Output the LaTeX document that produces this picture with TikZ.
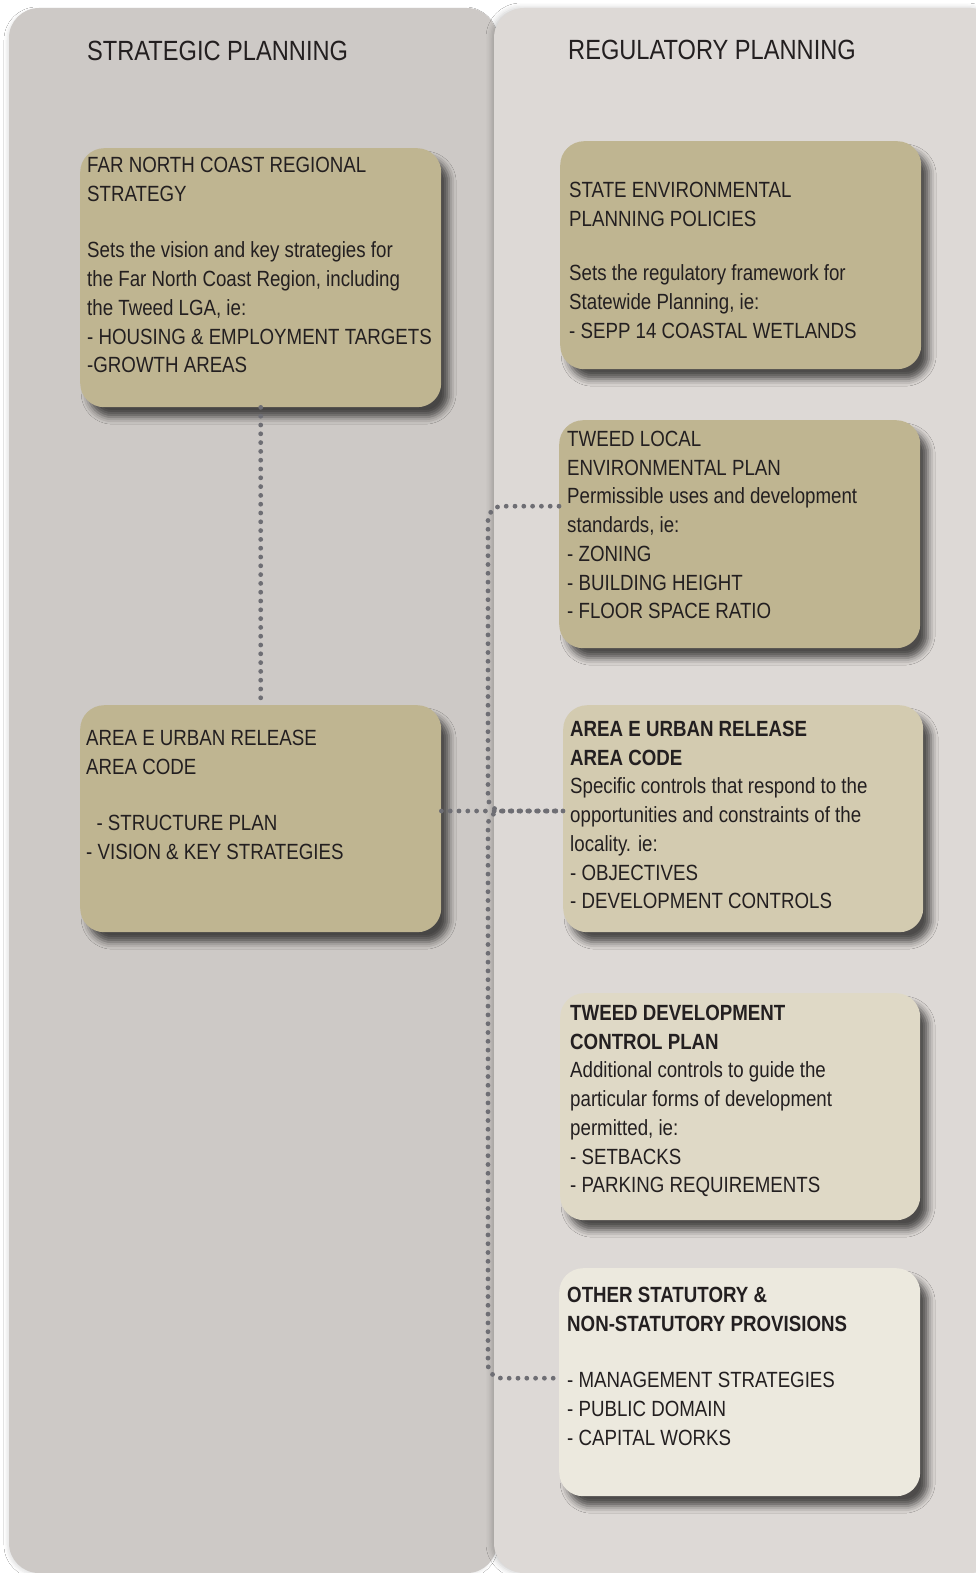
\documentclass[tikz,border=0pt]{standalone}
\usepackage{fontspec}
\setmainfont{Liberation Sans}[FakeStretch=0.85]
\usepackage{tikz}
\usetikzlibrary{positioning,shadows.blur}
\usepackage{xcolor}
\definecolor{leftp}{HTML}{CDC9C6}
\definecolor{rightp}{HTML}{DDD9D6}
\definecolor{tan}{HTML}{BFB591}
\definecolor{tanlight}{HTML}{D3CBB0}
\definecolor{sand}{HTML}{DFD9C6}
\definecolor{cream}{HTML}{ECE9DE}
\definecolor{ink}{HTML}{231F20}
\definecolor{dotc}{HTML}{6E6E74}
\newcommand{\bodyfont}{\fontsize{22}{28.7}\selectfont}
\newcommand{\headfont}{\fontsize{27.8}{32}\selectfont}

\begin{document}
\begin{tikzpicture}[x=1pt,y=-1pt,
	box/.style={rounded corners=24pt,anchor=north west,inner sep=0pt,blur shadow={shadow xshift=8pt,shadow yshift=-10pt,shadow blur radius=7pt,shadow opacity=65}},
	txt/.style={anchor=north west,inner sep=0pt,align=left,text=ink,font=\bodyfont},
	head/.style={anchor=west,inner sep=0pt,text=ink,font=\headfont},
	link/.style={draw=dotc,line width=4.8pt,line cap=round,dash pattern=on 0pt off 8.8pt}]
		\useasboundingbox[fill=white] (0,0) rectangle (975,1573);
		
		% the two columns
		\path[fill=leftp,rounded corners=30pt,blur shadow={shadow xshift=-2pt,shadow yshift=-2pt,shadow blur radius=3pt,shadow opacity=10}] (9,8) rectangle (497,1573);
		\path[fill=rightp,rounded corners=30pt,blur shadow={shadow xshift=-3pt,shadow yshift=0pt,shadow blur radius=5pt,shadow opacity=20}] (494,8) rectangle (1000,1573);
		\node[head] (strat) at (87,51) {STRATEGIC PLANNING};
		\node[head] (reg) at (568,50) {REGULATORY PLANNING};
		
		% boxes
		\node[box,fill=tan,minimum width=361pt,minimum height=259pt] (fncrs) at (80,148) {};
		\node[box,fill=tan,minimum width=361pt,minimum height=227pt] (codeL) at (80,705) {};
		\node[box,fill=tan,minimum width=361pt,minimum height=228pt] (sepp) at (560,141) {};
		\node[box,fill=tan,minimum width=361pt,minimum height=228pt] (lep) at (559,420) {};
		\node[box,fill=tanlight,minimum width=360pt,minimum height=227pt] (codeR) at (563,705) {};
		\node[box,fill=sand,minimum width=360pt,minimum height=227pt] (dcp) at (560,993) {};
		\node[box,fill=cream,minimum width=361pt,minimum height=228pt] (other) at (559,1268) {};
		
		% texts
		\node[txt] (fncrsT) at (87,157) {FAR NORTH COAST REGIONAL\\STRATEGY\\[28pt]Sets the vision and key strategies for\\the Far North Coast Region, including\\the Tweed LGA, ie:\\- HOUSING \& EMPLOYMENT TARGETS\\-GROWTH AREAS};
		\node[txt] (codeLT) at (86,730) {AREA E URBAN RELEASE\\AREA CODE\\[28pt]\ \ - STRUCTURE PLAN\\- VISION \& KEY STRATEGIES};
		\node[txt] (seppT) at (569,182) {STATE ENVIRONMENTAL\\PLANNING POLICIES\\[26pt]Sets the regulatory framework for\\Statewide Planning, ie:\\- SEPP 14 COASTAL WETLANDS};
		\node[txt] (lepT) at (567,431) {TWEED LOCAL\\ENVIRONMENTAL PLAN\\Permissible uses and development\\standards, ie:\\- ZONING\\- BUILDING HEIGHT\\- FLOOR SPACE RATIO};
		\node[txt] (codeRT) at (570,721) {\textbf{AREA E URBAN RELEASE}\\\textbf{AREA CODE}\\Specific controls that respond to the\\opportunities and constraints of the\\locality. ie:\\- OBJECTIVES\\- DEVELOPMENT CONTROLS};
		\node[txt] (dcpT) at (570,1005) {\textbf{TWEED DEVELOPMENT}\\\textbf{CONTROL PLAN}\\Additional controls to guide the\\particular forms of development\\permitted, ie:\\- SETBACKS\\- PARKING REQUIREMENTS};
		\node[txt] (otherT) at (567,1287) {\textbf{OTHER STATUTORY \&}\\\textbf{NON-STATUTORY PROVISIONS}\\[28pt]- MANAGEMENT STRATEGIES\\- PUBLIC DOMAIN\\- CAPITAL WORKS};
		
		% dotted links
		\coordinate (jn) at (488,811);
		\draw[link] (fncrs) -- (codeL);
		\draw[link] (codeL.east |- jn) -- (codeR.west |- jn);
		\draw[link,rounded corners=14pt] ([yshift=28pt]lep.west) -| (jn) -- (codeR.west |- jn);
		\draw[link,rounded corners=14pt] (codeR.west |- jn) -- (jn) |- ([yshift=4pt]other.west);
\end{tikzpicture}
\end{document}
